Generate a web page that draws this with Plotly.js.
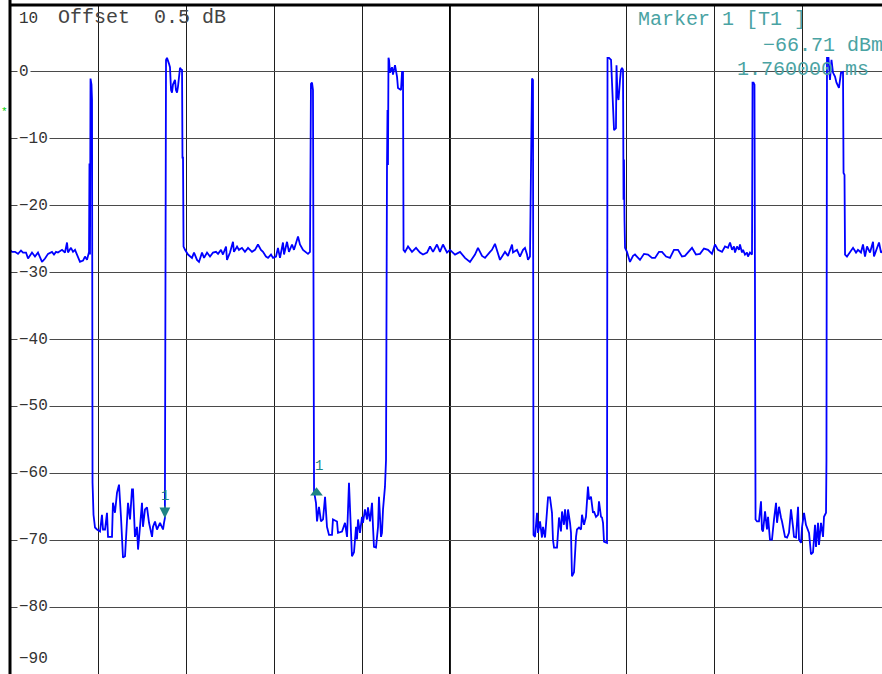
<!DOCTYPE html>
<html><head><meta charset="utf-8">
<script src="https://cdn.plot.ly/plotly-3.0.1.min.js"></script>
<style>html,body{margin:0;padding:0;background:#fff;overflow:hidden}#chart{width:882px;height:674px}</style>
</head><body><div id="chart"></div>
<script>
// ---- trace data: time in ms, level in dBm, segment by segment ----
const noise1T = [0.000,0.023,0.057,0.091,0.125,0.148,0.182,0.205,0.250,0.284,0.318,0.364,0.398,0.432,0.477,0.500,0.523,0.545,0.591,0.625,0.648,0.659,0.693,0.716,0.739,0.761,0.795,0.830,0.852,0.875,0.898];
const noise1Db = [-26.6,-26.9,-26.9,-27.2,-26.7,-27.0,-27.0,-27.9,-27.0,-27.6,-27.0,-28.4,-27.9,-27.2,-26.9,-27.3,-26.9,-27.0,-26.6,-27.0,-25.5,-27.0,-26.3,-26.9,-26.6,-27.3,-28.4,-28.2,-27.6,-28.1,-26.9];
const spike1T = [0.903,0.909,0.915,0.926,0.932,0.938];
const spike1Db = [-13.7,-27.3,-1.0,-1.9,-4.2,-61.4];
const low1T = [0.949,0.966,0.989,1.023,1.045,1.057,1.080,1.102,1.114,1.159,1.170,1.193,1.216,1.239,1.261,1.273,1.284,1.307,1.330,1.341,1.364,1.386,1.398,1.420,1.443,1.455,1.477,1.500,1.511,1.534,1.557,1.580,1.614,1.625,1.648,1.670,1.705,1.739,1.750,1.760];
const low1Db = [-66.2,-68.1,-68.4,-68.7,-66.2,-68.4,-68.4,-65.9,-69.5,-69.5,-64.4,-65.9,-62.9,-61.7,-66.5,-70.4,-72.6,-72.4,-68.0,-64.4,-66.9,-62.4,-62.4,-69.5,-68.0,-71.4,-68.0,-64.4,-68.0,-65.4,-65.1,-67.4,-69.5,-68.0,-67.2,-68.4,-67.4,-68.4,-67.4,-66.7];
const top1T = [1.773,1.784,1.807,1.818,1.830,1.841,1.852,1.875,1.886,1.898,1.909,1.932,1.943,1.955,1.960,1.966,1.972];
const top1Db = [1.8,2.1,1.2,0.7,-2.7,-3.1,-1.9,-1.2,-2.7,-3.1,-2.2,0.6,0.4,0.3,-12.8,-12.8,-26.1];
const noise2T = [1.989,2.023,2.068,2.091,2.125,2.148,2.182,2.205,2.239,2.273,2.307,2.341,2.364,2.398,2.420,2.455,2.466,2.500,2.534,2.545,2.580,2.602,2.636,2.670,2.705,2.750,2.784,2.818,2.852,2.875,2.909,2.932,2.966,2.989,3.023,3.045,3.068,3.102,3.114,3.148,3.170,3.205,3.227,3.273,3.295,3.330,3.364,3.386,3.409];
const noise2Db = [-26.6,-27.3,-27.8,-27.0,-28.1,-28.4,-27.0,-27.8,-27.0,-27.6,-27.0,-26.9,-27.2,-26.6,-27.3,-26.1,-28.1,-27.0,-25.4,-26.9,-26.1,-26.6,-26.3,-26.9,-26.3,-26.9,-26.6,-25.8,-26.6,-26.9,-27.6,-27.8,-27.3,-27.8,-27.6,-26.3,-27.8,-25.5,-27.3,-25.4,-26.9,-25.8,-26.6,-24.6,-25.8,-26.6,-26.9,-27.2,-26.9];
const spike2T = [3.420,3.432,3.443,3.455];
const spike2Db = [-1.8,-1.6,-2.7,-62.7];
const low2T = [3.477,3.489,3.511,3.534,3.557,3.580,3.602,3.625,3.659,3.670,3.716,3.727,3.773,3.807,3.830,3.852,3.875,3.886,3.909,3.932,3.943,3.955,3.977,4.000,4.011,4.034,4.057,4.068,4.091,4.114,4.125,4.136,4.159,4.182,4.193,4.216,4.227,4.239,4.261,4.273];
const low2Db = [-64.4,-67.2,-65.0,-67.2,-66.9,-63.5,-68.0,-69.2,-69.2,-66.9,-67.2,-68.9,-68.7,-67.4,-69.5,-61.4,-68.0,-72.4,-71.8,-68.0,-69.9,-66.9,-68.9,-66.5,-67.4,-65.4,-66.9,-65.1,-67.2,-64.4,-68.0,-71.0,-71.1,-68.0,-63.5,-69.5,-68.9,-65.4,-62.0,-58.0];
const top2T = [4.284,4.290,4.295,4.301,4.307,4.318,4.341,4.352,4.375,4.398,4.409,4.443,4.455,4.466,4.472];
const top2Db = [-14.2,-5.7,-13.9,2.1,1.8,-0.1,0.7,-0.4,1.0,-0.7,-2.4,-2.7,0.0,0.0,-26.6];
const noise3T = [4.489,4.523,4.568,4.614,4.659,4.693,4.739,4.773,4.807,4.852,4.886,4.920,4.966,5.000,5.057,5.114,5.170,5.227,5.284,5.318,5.364,5.398,5.455,5.477,5.511,5.545,5.568,5.625,5.659,5.705,5.716,5.761,5.795,5.830,5.852,5.875,5.886,5.909];
const noise3Db = [-26.9,-26.1,-26.9,-26.3,-27.0,-27.3,-27.0,-26.1,-26.9,-25.8,-26.9,-25.8,-27.0,-26.6,-27.3,-26.9,-27.8,-28.4,-27.3,-26.3,-27.5,-27.8,-26.9,-26.6,-25.7,-27.3,-28.1,-26.9,-27.5,-25.8,-27.0,-26.6,-27.6,-26.6,-26.3,-27.3,-28.1,-27.6];
const spike3T = [5.920,5.926,5.932,5.943,5.949];
const spike3Db = [-8.4,-9.4,-1.0,-1.2,-69.2];
const low3T = [5.966,5.989,6.000,6.023,6.045,6.057,6.080,6.102,6.114,6.136,6.159,6.170,6.182,6.216,6.227,6.239,6.261,6.273,6.295,6.307,6.330,6.341,6.364,6.375,6.386,6.409,6.432,6.443,6.466,6.489,6.500,6.523,6.545,6.557,6.568,6.580,6.602,6.625,6.636,6.659,6.682,6.693,6.716,6.727,6.739,6.750,6.784];
const low3Db = [-69.5,-65.9,-68.9,-67.2,-69.6,-68.0,-69.6,-64.4,-63.6,-63.6,-65.9,-69.9,-71.1,-71.1,-69.2,-66.6,-68.7,-65.7,-67.7,-65.4,-68.4,-65.4,-67.4,-68.9,-75.4,-74.8,-69.5,-68.4,-68.1,-68.4,-66.2,-67.7,-66.5,-64.2,-62.0,-63.9,-63.5,-65.9,-65.7,-66.5,-66.2,-64.2,-66.5,-66.6,-67.4,-70.2,-70.4];
const top3T = [6.790,6.807,6.830,6.841,6.852,6.864,6.886,6.892,6.903,6.915,6.932,6.943,6.955,6.966,6.972,6.977,6.983,6.989];
const top3Db = [2.1,2.1,1.8,-1.2,-4.6,-8.7,-8.4,1.0,-3.4,-4.2,-1.2,0.3,0.6,0.3,-19.1,-13.1,-22.1,-26.3];
const noise4T = [7.011,7.045,7.080,7.102,7.159,7.205,7.250,7.295,7.330,7.375,7.409,7.455,7.500,7.545,7.591,7.636,7.670,7.716,7.750,7.795,7.841,7.886,7.932,7.977,8.011,8.045,8.091,8.125,8.159,8.182,8.205,8.227,8.239,8.261,8.284,8.295,8.318,8.330,8.352,8.375,8.386,8.409,8.432];
const noise4Db = [-26.9,-28.4,-27.5,-27.3,-28.1,-27.2,-27.3,-27.8,-27.8,-26.9,-26.9,-27.6,-27.8,-26.6,-26.6,-27.6,-27.5,-26.9,-26.3,-27.3,-27.2,-26.4,-26.6,-27.2,-25.8,-26.6,-26.9,-26.1,-26.3,-25.5,-26.6,-26.1,-27.0,-26.1,-26.6,-25.8,-27.0,-26.6,-27.3,-27.0,-27.6,-27.0,-27.3];
const spike4T = [8.438,8.449,8.460,8.472];
const spike4Db = [-1.6,-1.6,-1.9,-66.9];
const low4T = [8.489,8.511,8.534,8.545,8.557,8.580,8.602,8.614,8.636,8.659,8.682,8.705,8.716,8.739,8.761,8.773,8.807,8.830,8.852,8.875,8.898,8.909,8.932,8.955,8.966,8.989,9.000,9.023,9.045,9.068,9.080,9.102,9.125,9.148,9.159,9.182,9.193,9.216,9.239,9.250,9.273,9.278];
const low4Db = [-67.2,-67.2,-64.2,-68.4,-68.7,-65.7,-68.4,-66.5,-69.9,-69.9,-66.9,-64.4,-67.4,-65.0,-66.6,-67.2,-69.5,-69.6,-68.9,-65.4,-68.0,-69.5,-69.6,-65.0,-69.9,-70.4,-68.1,-65.9,-67.7,-68.7,-68.9,-72.1,-71.8,-67.7,-71.0,-67.4,-70.7,-67.4,-69.5,-66.5,-65.9,-58.0];
const top4T = [9.284,9.301,9.318,9.335,9.352,9.375,9.392,9.420,9.443,9.466,9.472,9.483,9.489];
const top4Db = [2.1,2.1,-1.2,1.8,-0.1,-0.7,-1.6,-2.4,-0.1,0.0,-15.1,-15.4,-27.3];
const noise5T = [9.511,9.545,9.580,9.614,9.636,9.670,9.693,9.716,9.739,9.773,9.807,9.818,9.852,9.875,9.898,9.932];
const noise5Db = [-27.6,-27.0,-26.3,-27.0,-26.6,-27.0,-25.8,-27.6,-26.1,-27.0,-25.4,-27.6,-26.3,-25.5,-27.0,-26.6];

// ---- axis labels and markers ----
const yTickVals = [10,0,-10,-20,-30,-40,-50,-60,-70,-80,-90];
const yTickText = ['10','0','\u221210','\u221220','\u221230','\u221240','\u221250','\u221260','\u221270','\u221280','\u221290'];
const offsetText = 'Offset  0.5 dB';
const markerTime = [1.76];
const markerLevel = [-66.71];
const markerName = 'Marker 1 [T1 ]';
const refMarkerTime = [3.483];
const refMarkerLevel = [-62.9];

const timeMs = [].concat(noise1T,spike1T,low1T,top1T,noise2T,spike2T,low2T,top2T,noise3T,spike3T,low3T,top3T,noise4T,spike4T,low4T,top4T,noise5T);
const levelDbm = [].concat(noise1Db,spike1Db,low1Db,top1Db,noise2Db,spike2Db,low2Db,top2Db,noise3Db,spike3Db,low3Db,top3Db,noise4Db,spike4Db,low4Db,top4Db,noise5Db);

const TEAL_TXT = '#4aa3a3';
const TEAL_MK = '#1f8484';
const MONO = 'Liberation Mono, DejaVu Sans Mono, monospace';

const traces = [
  {x: timeMs, y: levelDbm, type: 'scatter', mode: 'lines',
   line: {color: '#0000ff', width: 1.8}, hoverinfo: 'skip'},
  {x: refMarkerTime, y: refMarkerLevel, type: 'scatter', mode: 'markers',
   marker: {symbol: 'triangle-up', size: 11, color: TEAL_MK}, hoverinfo: 'skip'}
];

const annotations = [];
yTickVals.forEach((v, i) => {
  const a = {x: 0, xref: 'paper', y: v, yref: 'y', xanchor: 'left', xshift: 7,
    text: yTickText[i], showarrow: false, bgcolor: '#ffffff', borderpad: 1,
    font: {family: MONO, size: 16, color: '#333333'}, yanchor: 'middle'};
  if (v === 10) { a.yanchor = 'top'; a.yshift = -3; a.bgcolor = 'rgba(0,0,0,0)'; }
  if (v === -90) { a.yanchor = 'bottom'; a.yshift = 4; }
  annotations.push(a);
});
annotations.push({x: 0.0528, xref: 'paper', y: 0.9806, yref: 'paper', xanchor: 'left', yanchor: 'middle',
  text: offsetText, showarrow: false, font: {family: MONO, size: 20, color: '#444444'}});
annotations.push({x: 0.7179, xref: 'paper', y: 0.9776, yref: 'paper', xanchor: 'left', yanchor: 'middle',
  text: markerName, showarrow: false, font: {family: MONO, size: 20, color: TEAL_TXT}});
annotations.push({x: 0.8612, xref: 'paper', y: 0.9402, yref: 'paper', xanchor: 'left', yanchor: 'middle',
  text: markerLevel[0].toFixed(2).replace('-', '\u2212') + ' dBm', showarrow: false,
  font: {family: MONO, size: 20, color: TEAL_TXT}});
annotations.push({x: 0.8309, xref: 'paper', y: 0.9036, yref: 'paper', xanchor: 'left', yanchor: 'middle',
  text: markerTime[0].toFixed(6) + ' ms', showarrow: false, font: {family: MONO, size: 20, color: TEAL_TXT}});
// marker 1 (arrow pointing down onto the trace)
annotations.push({x: markerTime[0], y: markerLevel[0], xref: 'x', yref: 'y', text: '1',
  showarrow: true, arrowhead: 2, arrowsize: 1.8, arrowwidth: 1.2, arrowcolor: TEAL_MK,
  ax: 0, ay: -22, font: {family: MONO, size: 14, color: TEAL_MK}});
annotations.push({x: refMarkerTime[0], y: refMarkerLevel[0], xref: 'x', yref: 'y', text: '1',
  showarrow: false, yshift: 27, xshift: 2, font: {family: MONO, size: 14, color: TEAL_MK}});
// green flag at the left edge (kept fully inside the picture)
annotations.push({x: 0, xref: 'paper', y: 0.8505, yref: 'paper', xanchor: 'right', xshift: -1,
  text: '*', showarrow: false, borderpad: 0, font: {family: MONO, size: 11, color: '#00cc00'}});

const layout = {
  width: 882, height: 674,
  margin: {l: 10, r: 0, t: 5, b: 0, pad: 0},
  paper_bgcolor: '#ffffff', plot_bgcolor: '#ffffff',
  showlegend: false,
  xaxis: {range: [0, 872 / 88], tick0: 0, dtick: 1, showgrid: true, gridcolor: '#1e1e1e', gridwidth: 1,
    showticklabels: false, ticks: '', zeroline: false, showline: false, fixedrange: true},
  yaxis: {range: [-90, 10], tick0: 0, dtick: 10, showgrid: true, gridcolor: '#4a4a4a', gridwidth: 1,
    showticklabels: false, ticks: '', zeroline: false, showline: false, fixedrange: true},
  shapes: [
    {type: 'line', xref: 'x', yref: 'paper', x0: 5, x1: 5, y0: 0, y1: 1, line: {color: '#000000', width: 2}, layer: 'between'},
    {type: 'line', xref: 'paper', yref: 'paper', x0: 0, x1: 0, y0: 0, y1: 1.01, line: {color: '#000000', width: 3}, layer: 'above'},
    {type: 'line', xref: 'paper', yref: 'paper', x0: 0, x1: 1.01, y0: 1, y1: 1, line: {color: '#000000', width: 3}, layer: 'above'}
  ],
  annotations: annotations
};

Plotly.newPlot('chart', traces, layout, {staticPlot: true, displayModeBar: false});
</script>
</body></html>
